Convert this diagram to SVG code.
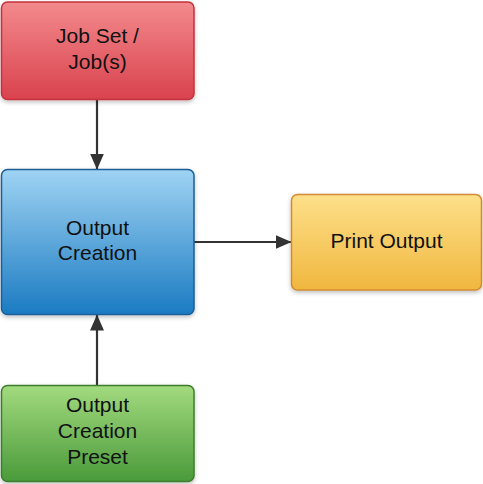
<svg xmlns="http://www.w3.org/2000/svg" width="483" height="484" viewBox="0 0 483 484">
<defs>
<linearGradient id="gRed" x1="0" y1="0" x2="0" y2="1"><stop offset="0" stop-color="#f38a8c"/><stop offset="1" stop-color="#d9424e"/></linearGradient>
<linearGradient id="gBlue" x1="0" y1="0" x2="0" y2="1"><stop offset="0" stop-color="#9fd3f3"/><stop offset="1" stop-color="#1b7bc2"/></linearGradient>
<linearGradient id="gYel" x1="0" y1="0" x2="0" y2="1"><stop offset="0" stop-color="#fde08a"/><stop offset="1" stop-color="#f1b73f"/></linearGradient>
<linearGradient id="gGrn" x1="0" y1="0" x2="0" y2="1"><stop offset="0" stop-color="#a3da7f"/><stop offset="1" stop-color="#4a9a3a"/></linearGradient>
<filter id="sh" x="-10%" y="-10%" width="120%" height="130%"><feDropShadow dx="0" dy="2" stdDeviation="2" flood-color="#000" flood-opacity="0.25"/></filter>
<marker id="arr" viewBox="0 0 16 14" refX="15.5" refY="7" markerWidth="16" markerHeight="14" markerUnits="userSpaceOnUse" orient="auto"><path d="M0,0 L16,7 L0,14 Z" fill="#333"/></marker>
</defs>
<style>
.box{stroke-width:1.5;filter:url(#sh)}
text{font-family:"Liberation Sans",Arial,sans-serif;font-size:21px;fill:#111;text-anchor:middle}
.conn{stroke:#333;stroke-width:2.2;fill:none;marker-end:url(#arr)}
</style>
<rect width="483" height="484" fill="#fff"/>
<g id="connectors">
<line class="conn" x1="97" y1="100" x2="97" y2="169"/>
<line class="conn" x1="194" y1="242" x2="291" y2="242"/>
<line class="conn" x1="97" y1="385" x2="97" y2="315"/>
</g>
<g id="job">
<rect class="box" x="1.5" y="2" width="192.5" height="97.5" rx="6" fill="url(#gRed)" stroke="#c4323d"/>
<text x="97.5" y="43">Job Set /</text>
<text x="97.5" y="69">Job(s)</text>
</g>
<g id="output-creation">
<rect class="box" x="1.5" y="169.5" width="192.5" height="145" rx="6" fill="url(#gBlue)" stroke="#1a5e98"/>
<text x="97.5" y="235">Output</text>
<text x="97.5" y="260">Creation</text>
</g>
<g id="print-output">
<rect class="box" x="291.5" y="194.5" width="190" height="95.5" rx="6" fill="url(#gYel)" stroke="#d48a33"/>
<text x="386.5" y="248">Print Output</text>
</g>
<g id="preset">
<rect class="box" x="1.5" y="385.5" width="192.5" height="96" rx="6" fill="url(#gGrn)" stroke="#3e7d2e"/>
<text x="97.5" y="412">Output</text>
<text x="97.5" y="438">Creation</text>
<text x="97.5" y="464">Preset</text>
</g>
</svg>
